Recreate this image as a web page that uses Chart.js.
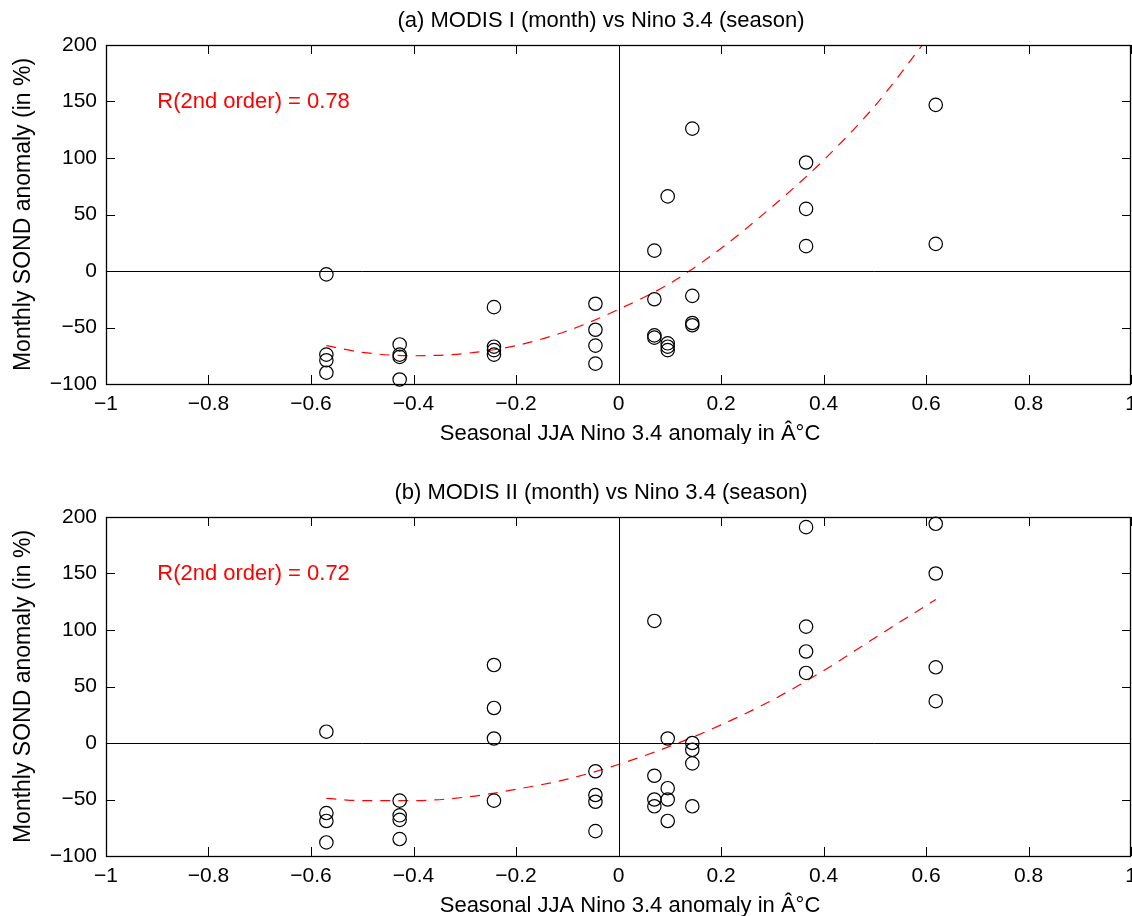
<!DOCTYPE html>
<html>
<head>
<meta charset="utf-8">
<script src="https://cdn.jsdelivr.net/npm/chart.js@4/dist/chart.umd.min.js"></script>
<style>
  body { margin: 0; background: #fff; overflow: hidden; }
  #wrap { position: relative; width: 1132px; height: 916px; overflow: hidden; }
  canvas { position: absolute; left: 0; }
</style>
</head>
<body>
<div id="wrap">
  <canvas id="panelA" width="1132" height="444" style="top:0px"></canvas>
  <canvas id="panelB" width="1132" height="444" style="top:472px"></canvas>
</div>
<script>
// panel (a): MODIS I
const ninoA = [-0.57, -0.57, -0.57, -0.57, -0.427, -0.427, -0.427, -0.427,
  -0.243, -0.243, -0.243, -0.243, -0.045, -0.045, -0.045, -0.045,
  0.070, 0.070, 0.070, 0.070, 0.096, 0.096, 0.096, 0.096,
  0.144, 0.144, 0.144, 0.144, 0.366, 0.366, 0.366, 0.619, 0.619];
const sondA = [-3, -74, -79, -90, -65, -74, -76, -96,
  -32, -67, -70, -74, -29, -52, -66, -82,
  18, -25, -57, -59, 66, -64, -67, -70,
  126, -22, -46, -48, 96, 55, 22, 147, 24];
const fitXA = [-0.57, -0.5, -0.4, -0.3, -0.2, -0.1, 0, 0.1, 0.2, 0.3, 0.4, 0.5, 0.593];
const fitYA = [-66, -72, -75, -73, -66, -53, -34, -11, 20, 57, 98, 146, 200];

// panel (b): MODIS II
const ninoB = [-0.57, -0.57, -0.57, -0.57, -0.427, -0.427, -0.427, -0.427,
  -0.243, -0.243, -0.243, -0.243, -0.045, -0.045, -0.045, -0.045,
  0.070, 0.070, 0.070, 0.070, 0.096, 0.096, 0.096, 0.096,
  0.144, 0.144, 0.144, 0.144, 0.366, 0.366, 0.366, 0.366,
  0.619, 0.619, 0.619, 0.619];
const sondB = [10, -62, -69, -88, -51, -64, -68, -85,
  69, 31, 4, -51, -25, -46, -52, -78,
  108, -29, -50, -56, 4, -40, -50, -69,
  0, -6, -18, -56, 191, 103, 81, 62,
  194, 150, 67, 37];
const fitXB = [-0.57, -0.5, -0.4, -0.3, -0.2, -0.1, 0, 0.1, 0.2, 0.3, 0.4, 0.5, 0.619];
const fitYB = [-49, -51, -51, -48, -41, -32, -19, -3, 16, 38, 64, 93, 127];

const xTitle = "Seasonal JJA Nino 3.4 anomaly in Â°C";
const yTitle = "Monthly SOND anomaly (in %)";

const FONT = "'Liberation Sans', Arial, Helvetica, sans-serif";
Chart.defaults.font.family = FONT;
Chart.defaults.font.size = 21;
Chart.defaults.color = "#000";

function fmt(v) {
    let s = String(Math.round(v * 10) / 10);
    return s.replace("-", "\u2212");
}

// box, inward ticks, zero lines, titles and the R text
const framePlugin = {
    id: "frame",
    afterDatasetsDraw(chart, args, opts) {
        const ctx = chart.ctx;
        const a = chart.chartArea;
        const xs = chart.scales.x, ys = chart.scales.y;
        ctx.save();
        ctx.strokeStyle = "#000";
        ctx.lineWidth = 1;
        // zero lines
        const x0 = Math.round(xs.getPixelForValue(0)) + 0.5;
        const y0 = Math.round(ys.getPixelForValue(0)) + 0.5;
        ctx.beginPath();
        ctx.moveTo(x0, a.top); ctx.lineTo(x0, a.bottom);
        ctx.moveTo(a.left, y0); ctx.lineTo(a.right, y0);
        ctx.stroke();
        // ticks pointing inward
        const len = 9;
        ctx.beginPath();
        xs.ticks.forEach(t => {
            const px = Math.round(xs.getPixelForValue(t.value)) + 0.5;
            ctx.moveTo(px, a.bottom); ctx.lineTo(px, a.bottom - len);
            ctx.moveTo(px, a.top); ctx.lineTo(px, a.top + len);
        });
        ys.ticks.forEach(t => {
            const py = Math.round(ys.getPixelForValue(t.value)) + 0.5;
            ctx.moveTo(a.left, py); ctx.lineTo(a.left + len, py);
            ctx.moveTo(a.right, py); ctx.lineTo(a.right - len, py);
        });
        ctx.stroke();
        // box
        ctx.lineWidth = 1.3;
        ctx.strokeRect(a.left + 0.5, a.top + 0.5, a.right - a.left - 1, a.bottom - a.top);

        // titles
        ctx.fillStyle = "#000";
        ctx.textAlign = "center";
        ctx.textBaseline = "middle";
        ctx.font = "22px " + FONT;
        ctx.fillText(opts.title, 601, 21);
        ctx.fillText(xTitle, 630, 434);
        ctx.save();
        ctx.translate(24, (a.top + a.bottom) / 2);
        ctx.rotate(-Math.PI / 2);
        ctx.font = "23px " + FONT;
        ctx.fillText(yTitle, 0, 0);
        ctx.restore();

        // correlation text
        ctx.fillStyle = "#ff0000";
        ctx.font = "22px " + FONT;
        ctx.textAlign = "left";
        ctx.fillText(opts.text, xs.getPixelForValue(-0.9), ys.getPixelForValue(150));
        ctx.restore();
    }
};

function makePanel(id, title, xs, ys, fx, fy, rText) {
    const pts = xs.map((x, i) => ({ x: x, y: ys[i] }));
    const fit = fx.map((x, i) => ({ x: x, y: fy[i] }));
    return new Chart(document.getElementById(id), {
        type: "scatter",
        data: {
            datasets: [
                {
                    data: pts,
                    pointStyle: "circle",
                    pointRadius: 6.7,
                    pointBorderWidth: 1.2,
                    borderColor: "#000",
                    backgroundColor: "rgba(0,0,0,0)",
                    clip: false
                },
                {
                    type: "line",
                    data: fit,
                    borderColor: "#ff0000",
                    borderWidth: 1.2,
                    borderDash: [10, 8],
                    pointRadius: 0,
                    cubicInterpolationMode: "monotone",
                    fill: false
                }
            ]
        },
        options: {
            responsive: false,
            animation: false,
            layout: { autoPadding: false, padding: { left: 0, right: 1, top: 45, bottom: 0 } },
            plugins: {
                legend: { display: false },
                tooltip: { enabled: false },
                frame: { text: rText, title: title }
            },
            scales: {
                x: {
                    type: "linear",
                    min: -1,
                    max: 1,
                    grid: { display: false, drawTicks: false },
                    border: { display: false },
                    ticks: { stepSize: 0.2, padding: 8, maxRotation: 0, callback: v => fmt(v) },
                    afterFit(s) {
                        s.height = 60;
                        s.paddingLeft = 0;
                        s.paddingRight = 0;
                    }
                },
                y: {
                    min: -100,
                    max: 200,
                    grid: { display: false, drawTicks: false },
                    border: { display: false },
                    ticks: { stepSize: 50, padding: 9, callback: v => fmt(v) },
                    afterFit(s) {
                        s.width = 106;
                        s.paddingTop = 0;
                        s.paddingBottom = 0;
                    }
                }
            }
        },
        plugins: [framePlugin]
    });
}

makePanel("panelA", "(a) MODIS I (month) vs Nino 3.4 (season)", ninoA, sondA, fitXA, fitYA, "R(2nd order) = 0.78");
makePanel("panelB", "(b) MODIS II (month) vs Nino 3.4 (season)", ninoB, sondB, fitXB, fitYB, "R(2nd order) = 0.72");
</script>
</body>
</html>
